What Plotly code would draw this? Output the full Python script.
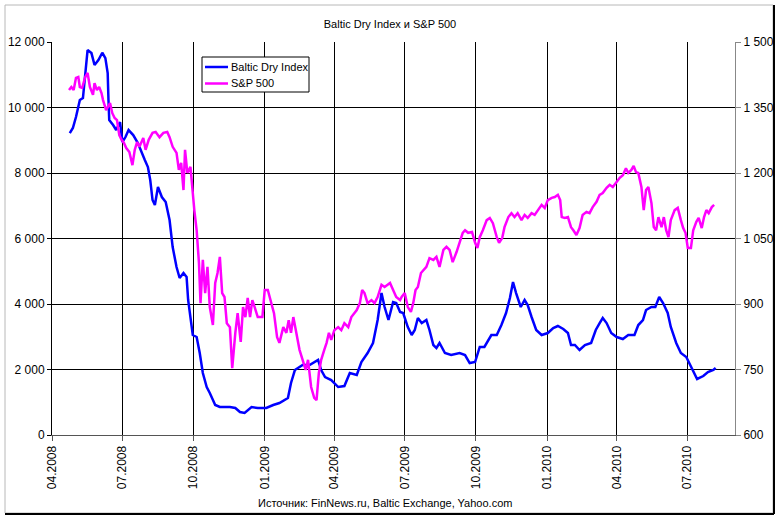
import plotly.graph_objects as go

title_text = "Baltic Dry Index и S&P 500"
source_text = "Источник: FinNews.ru, Baltic Exchange, Yahoo.com"
series_names = ["Baltic Dry Index", "S&P 500"]

bdi_dates = [
    "2008-04-24", "2008-04-28", "2008-05-02", "2008-05-07", "2008-05-11", "2008-05-13", "2008-05-17", "2008-05-22", "2008-05-26", "2008-05-31",
    "2008-06-05", "2008-06-09", "2008-06-12", "2008-06-13", "2008-06-14", "2008-06-19", "2008-06-23", "2008-06-28", "2008-07-01", "2008-07-05",
    "2008-07-09", "2008-07-15", "2008-07-21", "2008-07-30", "2008-08-03", "2008-08-06", "2008-08-09", "2008-08-12", "2008-08-16", "2008-08-21",
    "2008-08-26", "2008-08-31", "2008-09-04", "2008-09-09", "2008-09-13", "2008-09-18", "2008-09-22", "2008-09-24", "2008-09-27", "2008-09-30",
    "2008-10-05", "2008-10-09", "2008-10-13", "2008-10-18", "2008-10-22", "2008-10-29", "2008-11-04", "2008-11-17", "2008-11-24", "2008-11-30",
    "2008-12-06", "2008-12-15", "2008-12-23", "2009-01-03", "2009-01-12", "2009-01-20", "2009-01-31", "2009-02-04", "2009-02-09", "2009-02-13",
    "2009-02-19", "2009-02-28", "2009-03-07", "2009-03-11", "2009-03-15", "2009-03-20", "2009-03-28", "2009-04-06", "2009-04-14", "2009-04-21",
    "2009-04-30", "2009-05-06", "2009-05-14", "2009-05-21", "2009-05-27", "2009-06-01", "2009-06-05", "2009-06-10", "2009-06-16", "2009-06-20",
    "2009-06-25", "2009-06-29", "2009-07-05", "2009-07-10", "2009-07-14", "2009-07-18", "2009-07-23", "2009-07-29", "2009-08-02", "2009-08-07",
    "2009-08-11", "2009-08-15", "2009-08-22", "2009-08-30", "2009-09-10", "2009-09-17", "2009-09-23", "2009-09-30", "2009-10-06", "2009-10-12",
    "2009-10-21", "2009-10-28", "2009-11-03", "2009-11-09", "2009-11-14", "2009-11-18", "2009-11-22", "2009-11-28", "2009-12-03", "2009-12-07",
    "2009-12-12", "2009-12-18", "2009-12-25", "2010-01-02", "2010-01-09", "2010-01-15", "2010-01-22", "2010-01-28", "2010-02-01", "2010-02-06",
    "2010-02-12", "2010-02-19", "2010-02-27", "2010-03-05", "2010-03-10", "2010-03-14", "2010-03-19", "2010-03-25", "2010-04-01", "2010-04-09",
    "2010-04-16", "2010-04-24", "2010-04-29", "2010-05-05", "2010-05-09", "2010-05-16", "2010-05-21", "2010-05-26", "2010-05-31", "2010-06-06",
    "2010-06-10", "2010-06-17", "2010-06-23", "2010-06-30", "2010-07-07", "2010-07-14", "2010-07-22", "2010-07-28", "2010-08-04", "2010-08-07",
]
bdi_values = [
    9220, 9373, 9709, 10228, 10289, 10838, 11754, 11662, 11296, 11449,
    11672, 11510, 11052, 10228, 9617, 9464, 9312, 9556, 8945, 9098,
    9312, 9159, 8915, 8396, 8182, 7785, 7175, 7022, 7571, 7266,
    7113, 6564, 5740, 5129, 4793, 4946, 4824, 4122, 3603, 3053,
    2992, 2503, 1893, 1465, 1282, 916, 855, 855, 824, 702,
    672, 855, 824, 824, 916, 977, 1130, 1588, 1984, 2046,
    2137, 2137, 2229, 2290, 1984, 1771, 1679, 1465, 1496, 1893,
    1832, 2229, 2503, 2809, 3511, 4335, 3908, 3511, 4060, 4030,
    3755, 3725, 3297, 3053, 3206, 3572, 3419, 3511, 3206, 2748,
    2656, 2809, 2503, 2442, 2503, 2442, 2198, 2229, 2687, 2687,
    3053, 3053, 3358, 3725, 4183, 4671, 4335, 3908, 4122, 3969,
    3603, 3206, 3053, 3114, 3267, 3328, 3236, 3114, 2748, 2748,
    2595, 2748, 2809, 3206, 3419, 3572, 3419, 3114, 2992, 2931,
    3053, 3053, 3358, 3511, 3816, 3908, 3908, 4213, 4030, 3725,
    3297, 2809, 2503, 2381, 2046, 1710, 1801, 1923, 1984, 2046,
]

spx_dates = [
    "2008-04-23", "2008-04-26", "2008-04-29", "2008-05-02", "2008-05-05", "2008-05-07", "2008-05-10", "2008-05-14", "2008-05-17", "2008-05-20",
    "2008-05-24", "2008-05-26", "2008-05-29", "2008-06-01", "2008-06-04", "2008-06-06", "2008-06-10", "2008-06-15", "2008-06-18", "2008-06-21",
    "2008-06-24", "2008-06-27", "2008-06-30", "2008-07-03", "2008-07-06", "2008-07-10", "2008-07-14", "2008-07-17", "2008-07-20", "2008-07-23",
    "2008-07-28", "2008-07-31", "2008-08-04", "2008-08-09", "2008-08-13", "2008-08-18", "2008-08-23", "2008-08-28", "2008-08-31", "2008-09-04",
    "2008-09-09", "2008-09-12", "2008-09-15", "2008-09-18", "2008-09-20", "2008-09-23", "2008-09-27", "2008-09-29", "2008-10-02", "2008-10-05",
    "2008-10-08", "2008-10-10", "2008-10-13", "2008-10-16", "2008-10-19", "2008-10-22", "2008-10-26", "2008-10-29", "2008-11-01", "2008-11-04",
    "2008-11-07", "2008-11-10", "2008-11-13", "2008-11-17", "2008-11-20", "2008-11-24", "2008-11-27", "2008-12-01", "2008-12-04", "2008-12-07",
    "2008-12-10", "2008-12-13", "2008-12-16", "2008-12-19", "2008-12-23", "2008-12-29", "2009-01-01", "2009-01-05", "2009-01-10", "2009-01-13",
    "2009-01-17", "2009-01-20", "2009-01-25", "2009-01-29", "2009-02-01", "2009-02-04", "2009-02-07", "2009-02-11", "2009-02-15", "2009-02-19",
    "2009-02-23", "2009-02-26", "2009-03-02", "2009-03-06", "2009-03-09", "2009-03-12", "2009-03-15", "2009-03-19", "2009-03-22", "2009-03-25",
    "2009-03-28", "2009-04-01", "2009-04-06", "2009-04-10", "2009-04-14", "2009-04-19", "2009-04-23", "2009-04-30", "2009-05-04", "2009-05-07",
    "2009-05-10", "2009-05-14", "2009-05-19", "2009-05-23", "2009-05-27", "2009-06-01", "2009-06-05", "2009-06-12", "2009-06-16", "2009-06-20",
    "2009-06-25", "2009-06-27", "2009-07-01", "2009-07-05", "2009-07-09", "2009-07-12", "2009-07-15", "2009-07-18", "2009-07-22", "2009-07-25",
    "2009-07-29", "2009-08-02", "2009-08-07", "2009-08-11", "2009-08-15", "2009-08-20", "2009-08-24", "2009-08-28", "2009-09-01", "2009-09-06",
    "2009-09-10", "2009-09-14", "2009-09-17", "2009-09-21", "2009-09-26", "2009-09-30", "2009-10-03", "2009-10-06", "2009-10-10", "2009-10-15",
    "2009-10-19", "2009-10-23", "2009-10-28", "2009-10-31", "2009-11-04", "2009-11-07", "2009-11-12", "2009-11-16", "2009-11-20", "2009-11-24",
    "2009-11-29", "2009-12-03", "2009-12-07", "2009-12-12", "2009-12-16", "2009-12-20", "2009-12-25", "2009-12-29", "2010-01-02", "2010-01-07",
    "2010-01-11", "2010-01-15", "2010-01-18", "2010-01-20", "2010-01-24", "2010-01-28", "2010-02-01", "2010-02-04", "2010-02-08", "2010-02-12",
    "2010-02-16", "2010-02-21", "2010-02-25", "2010-03-01", "2010-03-06", "2010-03-10", "2010-03-14", "2010-03-19", "2010-03-23", "2010-03-27",
    "2010-04-01", "2010-04-05", "2010-04-09", "2010-04-13", "2010-04-16", "2010-04-20", "2010-04-23", "2010-04-26", "2010-04-29", "2010-05-03",
    "2010-05-06", "2010-05-09", "2010-05-12", "2010-05-16", "2010-05-19", "2010-05-22", "2010-05-25", "2010-05-29", "2010-06-01", "2010-06-04",
    "2010-06-07", "2010-06-10", "2010-06-15", "2010-06-19", "2010-06-23", "2010-06-26", "2010-06-29", "2010-07-02", "2010-07-06", "2010-07-09",
    "2010-07-13", "2010-07-16", "2010-07-20", "2010-07-23", "2010-07-26", "2010-07-29", "2010-08-02", "2010-08-05",
]
spx_values = [
    1390, 1397, 1390, 1418, 1420, 1397, 1395, 1420, 1429, 1397,
    1379, 1406, 1390, 1397, 1383, 1367, 1344, 1360, 1337, 1326,
    1321, 1287, 1276, 1269, 1257, 1248, 1218, 1253, 1271, 1260,
    1280, 1253, 1276, 1292, 1294, 1282, 1292, 1294, 1282, 1260,
    1246, 1207, 1223, 1161, 1253, 1200, 1214, 1168, 1115, 1069,
    994, 902, 1001, 925, 985, 893, 852, 948, 971, 1008,
    925, 916, 856, 847, 753, 834, 879, 813, 893, 870,
    914, 870, 909, 893, 870, 870, 932, 932, 902, 879,
    824, 811, 847, 834, 863, 834, 870, 834, 795, 772,
    749, 772, 710, 685, 680, 742, 772, 795, 811, 834,
    818, 840, 847, 840, 856, 847, 870, 886, 902, 932,
    925, 902, 909, 902, 916, 944, 939, 948, 932, 916,
    909, 916, 925, 893, 882, 902, 932, 939, 971, 978,
    985, 1005, 1001, 1008, 985, 1024, 1031, 1024, 996, 1019,
    1040, 1063, 1069, 1063, 1065, 1040, 1028, 1053, 1069, 1092,
    1097, 1085, 1053, 1040, 1051, 1076, 1099, 1108, 1099, 1108,
    1092, 1104, 1097, 1108, 1104, 1115, 1127, 1120, 1138, 1143,
    1145, 1150, 1138, 1099, 1097, 1099, 1076, 1069, 1058, 1074,
    1104, 1111, 1108, 1122, 1134, 1150, 1154, 1166, 1173, 1168,
    1179, 1189, 1195, 1211, 1200, 1207, 1216, 1202, 1200, 1168,
    1115, 1161, 1168, 1131, 1076, 1069, 1099, 1076, 1099, 1069,
    1053, 1092, 1115, 1120, 1092, 1074, 1063, 1028, 1028, 1069,
    1088, 1097, 1074, 1099, 1115, 1108, 1122, 1127,
]

x_tick_dates = ["2008-04-01", "2008-07-01", "2008-10-01", "2009-01-01", "2009-04-01",
                "2009-07-01", "2009-10-01", "2010-01-01", "2010-04-01", "2010-07-01"]
x_tick_labels = ["04.2008", "07.2008", "10.2008", "01.2009", "04.2009",
                 "07.2009", "10.2009", "01.2010", "04.2010", "07.2010"]
x_range = ["2008-04-01", "2010-09-01"]
left_range = [0, 12000]
right_range = [600, 1500]

FONT = "Arial, Liberation Sans, sans-serif"
BLUE = "#0000FF"
MAGENTA = "#FF00FF"

fig = go.Figure()
fig.add_trace(go.Scatter(x=bdi_dates, y=bdi_values, name=series_names[0], mode="lines",
                         line=dict(color=BLUE, width=2.5), yaxis="y", showlegend=False))
fig.add_trace(go.Scatter(x=spx_dates, y=spx_values, name=series_names[1], mode="lines",
                         line=dict(color=MAGENTA, width=2.5), yaxis="y2", showlegend=False))

W, H = 780, 518
L, R, T, B = 52, 735, 42, 435

def px(xp):
    return (xp - L) / (R - L)

def py(yp):
    return (B - yp) / (B - T)

fig.update_layout(
    width=W, height=H,
    margin=dict(l=L, r=W - R, t=T, b=H - B, autoexpand=False),
    paper_bgcolor="white", plot_bgcolor="white",
    separators=", ",
    font=dict(family=FONT, size=12, color="black"),
    title=dict(text=title_text, x=0.5, xanchor="center", y=1 - 24 / H, yanchor="middle",
               font=dict(family=FONT, size=11, color="black")),
    xaxis=dict(type="date", range=x_range, tickvals=x_tick_dates, ticktext=x_tick_labels,
               tickangle=-90, showgrid=True, gridcolor="#000000", gridwidth=1,
               showline=True, linecolor="#555555", linewidth=1, automargin=False,
               ticks="outside", ticklen=5, tickcolor="#555555", zeroline=False,
               tickfont=dict(family=FONT, size=12, color="black")),
    yaxis=dict(range=left_range, dtick=2000, tickformat=",d", showgrid=True,
               gridcolor="#000000", gridwidth=1, showline=True, linecolor="#000000",
               linewidth=1, ticks="outside", ticklen=4, tickcolor="#000000", zeroline=False,
               automargin=False, tickfont=dict(family=FONT, size=12, color="black")),
    yaxis2=dict(range=right_range, dtick=150, tickformat=",d", overlaying="y", side="right",
                showgrid=False, showline=True, linecolor="#888888", linewidth=1,
                ticks="outside", ticklen=5, tickcolor="#888888", zeroline=False,
                automargin=False, tickfont=dict(family=FONT, size=12, color="black")),
    showlegend=False,
)

# outer chart frame (Excel-style chart area border with shadow)
fig.add_shape(type="rect", xref="paper", yref="paper",
              x0=px(5), x1=px(773), y0=py(513), y1=py(5),
              line=dict(color="#b8b8b8", width=1), layer="below")
fig.add_shape(type="line", xref="paper", yref="paper",
              x0=px(5), x1=px(774), y0=py(514), y1=py(514),
              line=dict(color="#000000", width=2))
fig.add_shape(type="line", xref="paper", yref="paper",
              x0=px(774), x1=px(774), y0=py(514), y1=py(5),
              line=dict(color="#000000", width=2))

# Excel-style legend box
fig.add_shape(type="rect", xref="paper", yref="paper",
              x0=px(202), x1=px(309), y0=py(92), y1=py(57),
              line=dict(color="#000000", width=1), fillcolor="white")
for i, (name, col) in enumerate(zip(series_names, [BLUE, MAGENTA])):
    yy = 67 + i * 16.5
    fig.add_shape(type="line", xref="paper", yref="paper",
                  x0=px(205), x1=px(228), y0=py(yy), y1=py(yy),
                  line=dict(color=col, width=2.5))
    fig.add_annotation(text=name, xref="paper", yref="paper", x=px(229), y=py(yy),
                       xanchor="left", yanchor="middle", showarrow=False,
                       font=dict(family=FONT, size=11, color="black"))

fig.add_annotation(text=source_text, xref="paper", yref="paper",
                   x=px(385), y=py(503), xanchor="center", yanchor="middle",
                   showarrow=False, font=dict(family=FONT, size=11, color="black"))

fig.write_html("out.html", config={"displayModeBar": False},
               post_script="document.body.style.margin='0';document.body.style.overflow='hidden';")
